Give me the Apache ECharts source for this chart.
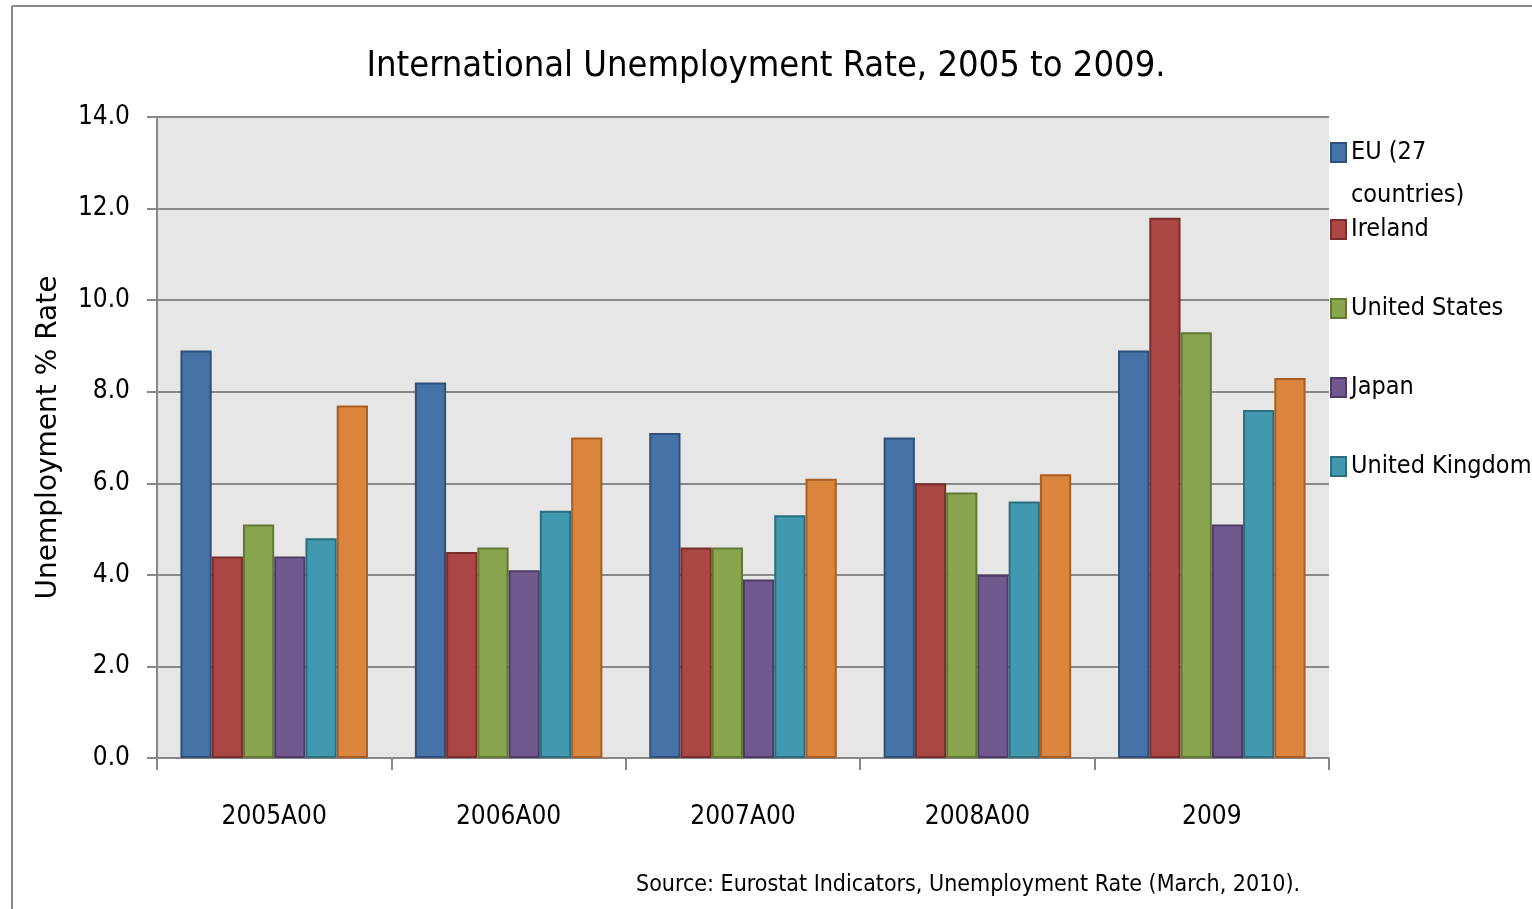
<!DOCTYPE html>
<html>
<head>
<meta charset="utf-8">
<title>International Unemployment Rate, 2005 to 2009</title>
<script src="https://cdn.jsdelivr.net/npm/echarts@6/dist/echarts.min.js"></script>
<style>
  html, body { margin: 0; padding: 0; background: #ffffff; }
  #chart { width: 1532px; height: 909px; }
</style>
</head>
<body>
<div id="chart"></div>
<script>
// Year categories as labelled on the axis
const categories = ['2005A00', '2006A00', '2007A00', '2008A00', '2009'];

// Unemployment rates (%) per series
const euRates      = [8.9, 8.2, 7.1, 7.0, 8.9];
const irelandRates = [4.4, 4.5, 4.6, 6.0, 11.8];
const usRates      = [5.1, 4.6, 4.6, 5.8, 9.3];
const japanRates   = [4.4, 4.1, 3.9, 4.0, 5.1];
const ukRates      = [4.8, 5.4, 5.3, 5.6, 7.6];
const otherRates   = [7.7, 7.0, 6.1, 6.2, 8.3];

const seriesNames = ['EU (27 countries)', 'Ireland', 'United States', 'Japan', 'United Kingdom', 'Other'];
const seriesData  = [euRates, irelandRates, usRates, japanRates, ukRates, otherRates];

// Y axis ticks
const yTicks = { min: 0, max: 14, interval: 2 };

const fills   = ['#4572A7', '#AA4643', '#89A54E', '#71588F', '#4198AF', '#DB843D'];
const borders = ['#2F5079', '#7A2E2C', '#627834', '#4E3C66', '#2A6E80', '#A85E22'];

const NARROW = '"Liberation Sans Narrow", "DejaVu Sans Condensed", "Roboto", sans-serif';

const chart = echarts.init(document.getElementById('chart'), null, { renderer: 'canvas' });

const series = seriesNames.map((name, i) => ({
  name: name,
  type: 'bar',
  data: seriesData[i],
  barGap: '0%',
  barCategoryGap: '20%',
  itemStyle: { color: fills[i], borderColor: borders[i], borderWidth: 2 },
  emphasis: { disabled: true }
}));

chart.setOption({
  animation: false,
  backgroundColor: '#ffffff',
  title: {
    text: 'International Unemployment Rate, 2005 to 2009.',
    left: 'center',
    top: 44,
    padding: [5, 0, 5, 12],
    textStyle: { fontFamily: NARROW, fontSize: 36, fontWeight: 'normal', color: '#000000' }
  },
  legend: [
    {
      data: ['EU (27 countries)'],
      orient: 'vertical',
      left: 1330,
      top: 88,
      padding: 0,
      itemWidth: 15,
      itemHeight: 19,
      selectedMode: false,
      icon: 'rect',
      formatter: () => '\nEU (27\ncountries)',
      textStyle: { fontFamily: NARROW, fontSize: 25, lineHeight: 43, color: '#000000' }
    },
    {
      data: ['Ireland', 'United States', 'Japan', 'United Kingdom'],
      orient: 'vertical',
      left: 1330,
      top: 217,
      padding: 0,
      itemWidth: 15,
      itemHeight: 19,
      itemGap: 54,
      selectedMode: false,
      icon: 'rect',
      textStyle: { fontFamily: NARROW, fontSize: 25, lineHeight: 25, color: '#000000' }
    }
  ],
  grid: {
    left: 157,
    right: 203,
    top: 117,
    bottom: 151,
    show: true,
    backgroundColor: '#e6e6e6',
    borderWidth: 0
  },
  xAxis: {
    type: 'category',
    data: categories,
    axisLine: { show: true, lineStyle: { color: '#888888', width: 2 } },
    axisTick: { show: true, length: 12, lineStyle: { color: '#888888', width: 2 } },
    axisLabel: { margin: 46, fontFamily: NARROW, fontSize: 26, color: '#000000' },
    splitLine: { show: false }
  },
  yAxis: {
    type: 'value',
    min: yTicks.min,
    max: yTicks.max,
    interval: yTicks.interval,
    name: 'Unemployment % Rate',
    nameLocation: 'middle',
    nameGap: 94,
    nameTextStyle: { fontFamily: '"DejaVu Sans", sans-serif', fontSize: 28, color: '#000000' },
    axisLine: { show: true, lineStyle: { color: '#888888', width: 2 } },
    axisTick: { show: true, length: 10, lineStyle: { color: '#888888', width: 2 } },
    axisLabel: {
      margin: 27,
      fontFamily: NARROW,
      fontSize: 26,
      color: '#000000',
      formatter: v => v.toFixed(1)
    },
    splitLine: { show: true, lineStyle: { color: '#888888', width: 2 } }
  },
  graphic: [
    { type: 'line', shape: { x1: 12, y1: 6, x2: 1532, y2: 6 }, style: { stroke: '#888888', lineWidth: 2 } },
    { type: 'line', shape: { x1: 12, y1: 6, x2: 12, y2: 909 }, style: { stroke: '#888888', lineWidth: 2 } },
    {
      type: 'text',
      left: 636,
      top: 874,
      style: {
        text: 'Source: Eurostat Indicators, Unemployment Rate (March, 2010).',
        fontFamily: NARROW,
        fontSize: 23,
        fontWeight: 'normal',
        fill: '#000000'
      }
    }
  ],
  series: series
});
</script>
</body>
</html>
